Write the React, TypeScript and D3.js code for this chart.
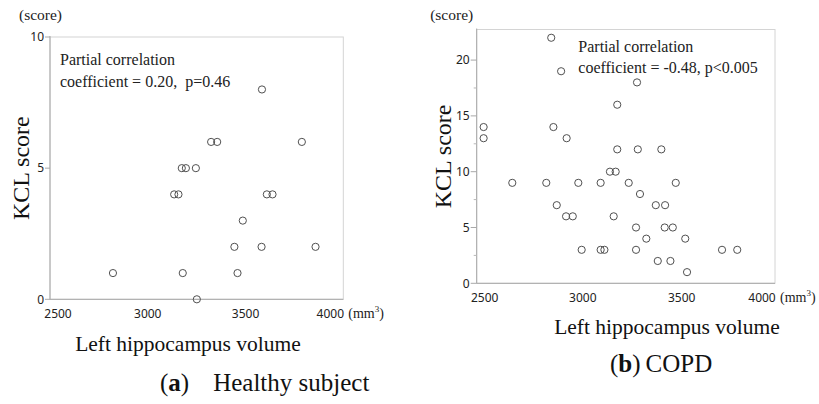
import React from "react";
import * as d3 from "d3";

// left hippocampus volume (mm3) and KCL score
const healthyVolume = [2822, 3179, 3459, 3251, 3443, 3582, 3858, 3486, 3135, 3157, 3609, 3638, 3174, 3195, 3246, 3324, 3355, 3788, 3584];
const healthyKcl = [1, 1, 1, 0, 2, 2, 2, 3, 4, 4, 4, 4, 5, 5, 5, 6, 6, 6, 8];

const copdVolume = [2840, 2890, 3274, 3174, 2498, 2498, 2851, 2918, 3174, 3278, 3397, 3137, 3166, 2643, 2815, 2977, 3090, 3232, 3470, 3289, 2868, 3369, 3416, 2915, 2949, 3156, 3269, 3414, 3455, 3321, 3518, 2994, 3090, 3109, 3269, 3704, 3781, 3379, 3443, 3527];
const copdKcl = [22, 19, 18, 16, 14, 13, 14, 13, 12, 12, 12, 10, 10, 9, 9, 9, 9, 9, 9, 8, 7, 7, 7, 6, 6, 6, 5, 5, 5, 4, 4, 3, 3, 3, 3, 3, 3, 2, 2, 1];

const xTicks = [2500, 3000, 3500, 4000];
const healthyYTicks = [0, 5, 10];
const copdYTicks = [0, 5, 10, 15, 20];
const copdMinorTicks = [2.5, 7.5, 12.5, 17.5];

const healthyNote = ["Partial correlation", "coefficient = 0.20,  p=0.46"];
const copdNote = ["Partial correlation", "coefficient = -0.48, p<0.005"];

const SERIF = "'Liberation Serif', serif";
const SANS = "'Noto Sans', 'DejaVu Sans', sans-serif";

interface PanelProps {
  xs: number[];
  ys: number[];
  xDomain: [number, number];
  yDomain: [number, number];
  box: { x0: number; x1: number; y0: number; y1: number };
  yTicks: number[];
  minorTicks: number[];
  tickLen: number;
  note: string[];
  noteX: number;
  noteY: number;
  scoreX: number;
  kclX: number;
  titleX: number;
  titleY: number;
  captionX: number;
  captionY: number;
  captionLetter: string;
  captionText: string;
  captionGap: number;
}

function Panel(p: PanelProps) {
  const { x0, x1, y0, y1 } = p.box;
  const x = d3.scaleLinear().domain(p.xDomain).range([x0, x1]);
  const y = d3.scaleLinear().domain(p.yDomain).range([y1, y0]);
  const tickY = y1 + 14;

  return (
    <g>
      {/* frame */}
      <rect x={x0} y={y0} width={x1 - x0} height={y1 - y0} fill="none" stroke="#d4d4d4" strokeWidth={1} />
      <line x1={x0} x2={x0} y1={y0 - 1} y2={y1} stroke="#a8a8a8" />
      <line x1={x0} x2={x1} y1={y1} y2={y1} stroke="#a8a8a8" />

      {p.yTicks.map((t) => (
        <g key={"y" + t}>
          <line x1={x0 - p.tickLen} x2={x0} y1={y(t)} y2={y(t)} stroke="#a8a8a8" />
          <text x={x0 - p.tickLen - 1} y={y(t)} dy="0.35em" textAnchor="end" fontFamily={SANS} fontSize={12} fill="#222">
            {t}
          </text>
        </g>
      ))}
      {p.minorTicks.map((t) => (
        <line key={"m" + t} x1={x0 - 3} x2={x0} y1={y(t)} y2={y(t)} stroke="#b8b8b8" />
      ))}

      {xTicks.map((t) => {
        // end labels are pulled inside the frame
        const cx = Math.min(Math.max(x(t), x0 + 8), x1 - 13);
        return (
          <text key={"x" + t} x={cx} y={tickY} dy="0.35em" textAnchor="middle" fontFamily={SANS} fontSize={12} fill="#222">
            {t}
          </text>
        );
      })}
      <text x={x1 + 5} y={tickY + 5} fontFamily={SERIF} fontSize={14} fill="#222">
        (mm<tspan fontSize={9} dy={-6}>3</tspan>
        <tspan dy={6}>)</tspan>
      </text>

      {p.xs.map((v, i) => (
        <circle key={i} cx={x(v)} cy={y(p.ys[i])} r={3.6} fill="none" stroke="#505050" strokeWidth={1} />
      ))}

      {p.note.map((s, i) => (
        <text key={i} x={p.noteX} y={p.noteY + i * 21.5} fontFamily={SERIF} fontSize={16} fill="#222" style={{ whiteSpace: "pre" }}>
          {s}
        </text>
      ))}

      <text x={p.scoreX} y={20} textAnchor="middle" fontFamily={SERIF} fontSize={15.5} fill="#222">
        (score)
      </text>
      <text
        transform={`translate(${p.kclX},${(y0 + y1) / 2}) rotate(-90)`}
        textAnchor="middle"
        dy="0.35em"
        fontFamily={SERIF}
        fontSize={24}
        fill="#111"
      >
        KCL score
      </text>

      <text x={p.titleX} y={p.titleY} textAnchor="middle" fontFamily={SERIF} fontSize={21.5} fill="#111">
        Left hippocampus volume
      </text>
      <text x={p.captionX} y={p.captionY} fontFamily={SERIF} fontSize={25} fill="#111">
        (<tspan fontWeight="bold">{p.captionLetter}</tspan>)
        <tspan dx={p.captionGap}>{p.captionText}</tspan>
      </text>
    </g>
  );
}

export default function App() {
  return (
    <svg
      width={819}
      height={404}
      style={{ position: "absolute", left: 0, top: 0, background: "#fff" }}
    >
      <Panel
        xs={healthyVolume}
        ys={healthyKcl}
        xDomain={[2500, 4000]}
        yDomain={[0, 10]}
        box={{ x0: 50, x1: 343.3, y0: 37, y1: 299.3 }}
        yTicks={healthyYTicks}
        minorTicks={[]}
        tickLen={5}
        note={healthyNote}
        noteX={60}
        noteY={65}
        scoreX={40.5}
        kclX={21}
        titleX={188}
        titleY={351}
        captionX={160}
        captionY={391}
        captionLetter="a"
        captionText="Healthy subject"
        captionGap={24}
      />
      <Panel
        xs={copdVolume}
        ys={copdKcl}
        xDomain={[2463, 3972]}
        yDomain={[0, 22.74]}
        box={{ x0: 476.7, x1: 775, y0: 29.5, y1: 283.3 }}
        yTicks={copdYTicks}
        minorTicks={copdMinorTicks}
        tickLen={6}
        note={copdNote}
        noteX={578.3}
        noteY={51.7}
        scoreX={451.7}
        kclX={443}
        titleX={667}
        titleY={334}
        captionX={610}
        captionY={372}
        captionLetter="b"
        captionText="COPD"
        captionGap={5}
      />
    </svg>
  );
}
